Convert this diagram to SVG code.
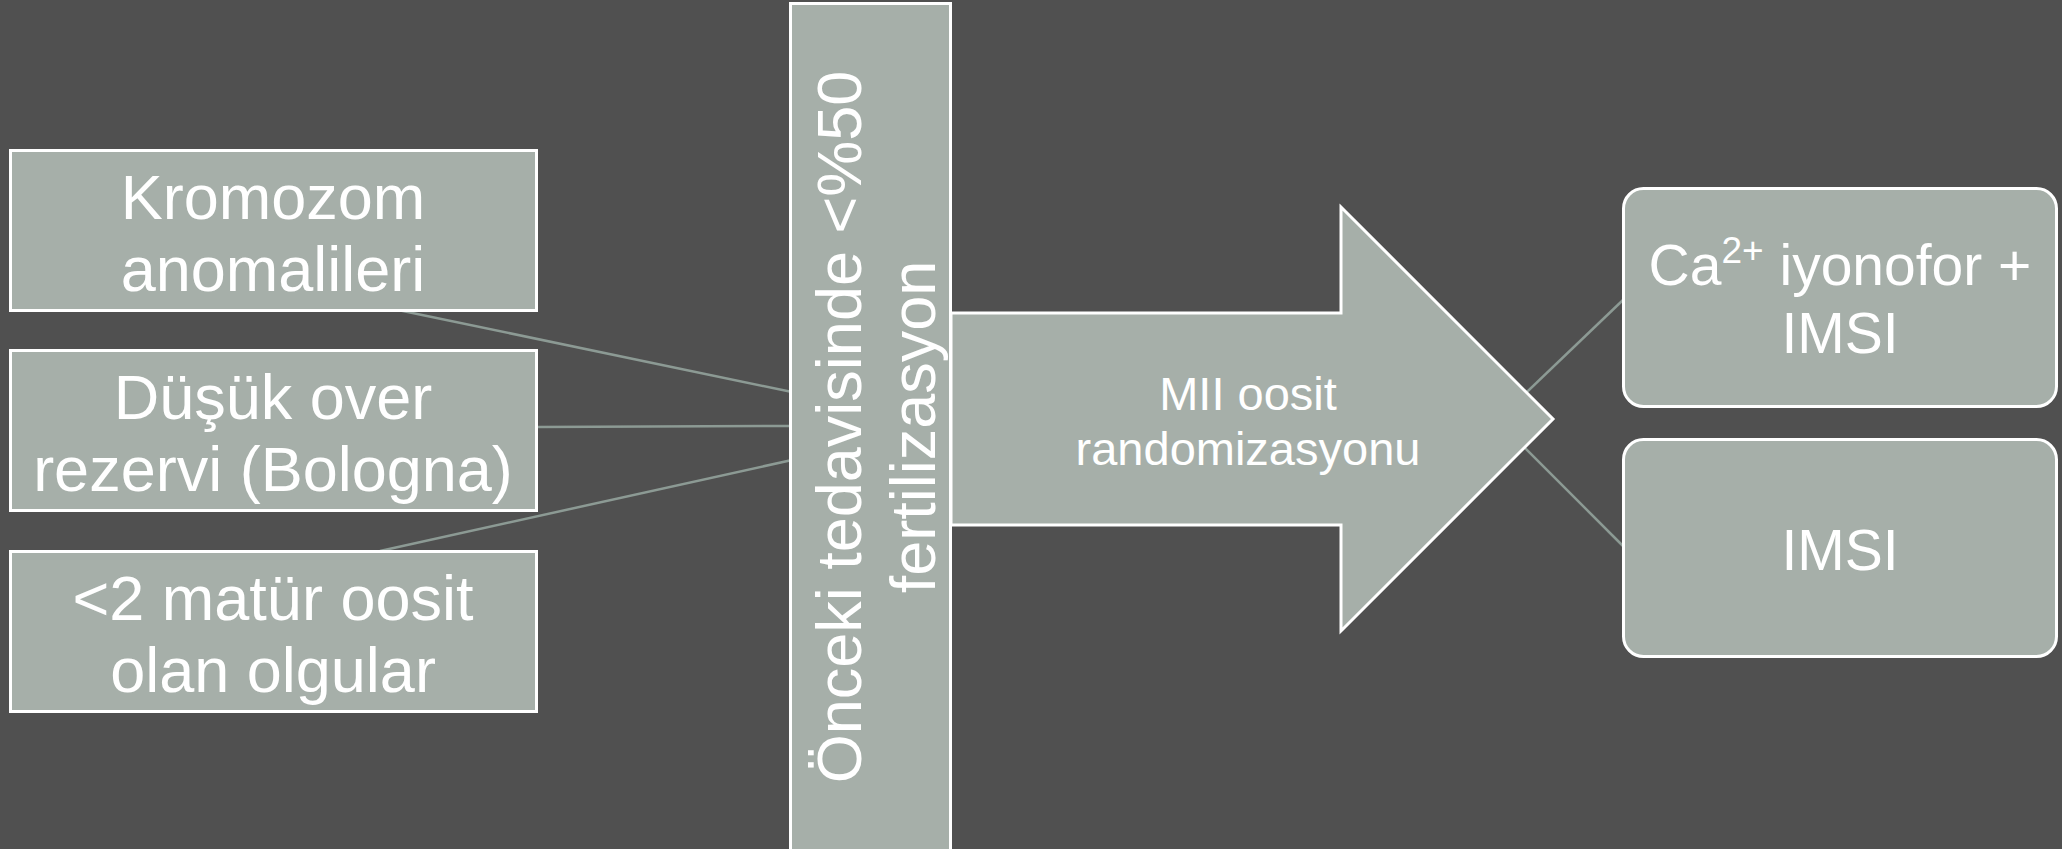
<svg xmlns="http://www.w3.org/2000/svg" width="2062" height="849" viewBox="0 0 2062 849">
<style>
.box{fill:#a6afa9;stroke:#ffffff;stroke-width:3}
.conn{stroke:#8c9a94;stroke-width:2.5;fill:none}
.t{font-family:"Liberation Sans",Arial,sans-serif;fill:#ffffff;text-anchor:middle}
.big{font-size:63px}
.mid{font-size:57px}
.sm{font-size:47px}
</style>
<rect width="2062" height="849" fill="#505050"/>
<g id="connectors">
<line class="conn" x1="398" y1="310" x2="792" y2="392"/>
<line class="conn" x1="537" y1="427" x2="792" y2="426"/>
<line class="conn" x1="380" y1="551" x2="792" y2="460"/>
<line class="conn" x1="1480" y1="437" x2="1623" y2="300"/>
<line class="conn" x1="1480" y1="403" x2="1623" y2="546"/>
</g>
<g id="node-kromozom">
<rect class="box" x="10.5" y="150.5" width="526" height="160"/>
<text class="t big" x="273" y="219">Kromozom</text>
<text class="t big" x="273" y="291">anomalileri</text>
</g>
<g id="node-dusuk">
<rect class="box" x="10.5" y="350.5" width="526" height="160"/>
<text class="t big" x="273" y="419">Düşük over</text>
<text class="t big" x="273" y="491">rezervi (Bologna)</text>
</g>
<g id="node-matur">
<rect class="box" x="10.5" y="551.5" width="526" height="160"/>
<text class="t big" x="273" y="620">&lt;2 matür oosit</text>
<text class="t big" x="273" y="692">olan olgular</text>
</g>
<g id="node-onceki">
<rect class="box" x="790.5" y="3.5" width="160" height="847"/>
<text class="t big" transform="translate(861,427) rotate(-90)" x="0" y="0">Önceki tedavisinde &lt;%50</text>
<text class="t big" transform="translate(935,427) rotate(-90)" x="0" y="0">fertilizasyon</text>
</g>
<g id="node-arrow">
<polygon class="box" stroke-width="2.5" points="951,313 1341,313 1341,207 1553,419 1341,631 1341,525 951,525"/>
<text class="t sm" x="1248" y="410">MII oosit</text>
<text class="t sm" x="1248" y="465">randomizasyonu</text>
</g>
<g id="node-ca">
<rect class="box" x="1623.5" y="188.5" width="433" height="218" rx="20"/>
<text class="t mid" x="1840" y="285">Ca<tspan font-size="37" dy="-22">2+</tspan><tspan dy="22"> iyonofor +</tspan></text>
<text class="t mid" x="1840" y="353">IMSI</text>
</g>
<g id="node-imsi">
<rect class="box" x="1623.5" y="439.5" width="433" height="217" rx="20"/>
<text class="t mid" x="1840" y="570">IMSI</text>
</g>
</svg>
